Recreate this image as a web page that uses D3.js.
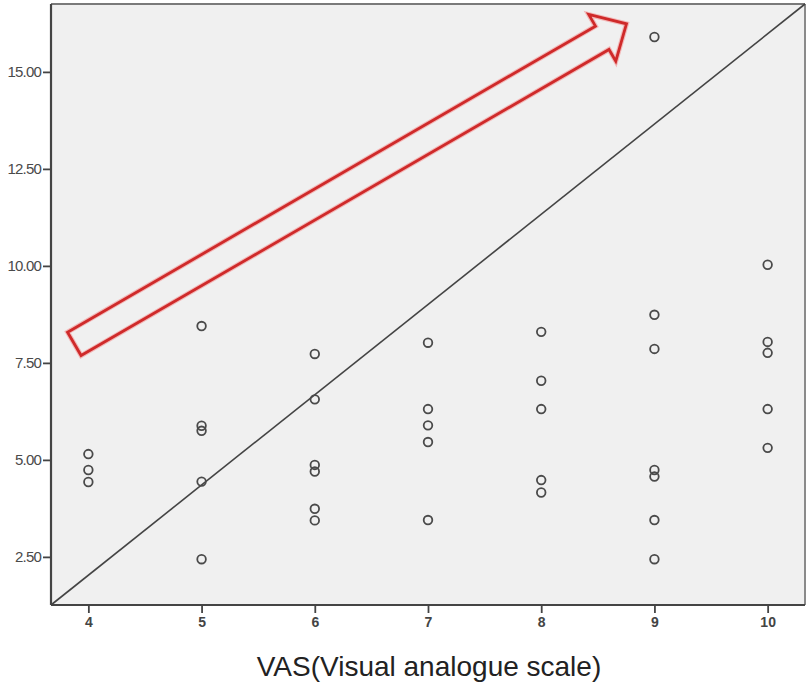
<!DOCTYPE html>
<html>
<head>
<meta charset="utf-8">
<script src="https://cdn.jsdelivr.net/npm/d3@7"></script>
<style>
  html, body { margin: 0; padding: 0; background: #fff; }
  svg { display: block; }
</style>
</head>
<body>
<svg id="chart" width="807" height="683"></svg>
<script>
// ---- data ----
const vasCategories = [4, 5, 6, 7, 8, 9, 10];
const pointsX = [
  4, 4, 4,
  5, 5, 5, 5, 5,
  6, 6, 6, 6, 6, 6,
  7, 7, 7, 7, 7,
  8, 8, 8, 8, 8,
  9, 9, 9, 9, 9, 9, 9,
  10, 10, 10, 10, 10
];
const pointsY = [
  5.15, 4.74, 4.43,
  8.45, 5.88, 5.75, 4.44, 2.44,
  7.73, 6.56, 4.87, 4.70, 3.74, 3.44,
  8.02, 6.31, 5.89, 5.46, 3.45,
  8.30, 7.04, 6.31, 4.48, 4.16,
  15.90, 8.74, 7.86, 4.74, 4.57, 3.45, 2.44,
  10.03, 8.04, 7.76, 6.31, 5.31
];
const yTickValues = [2.5, 5, 7.5, 10, 12.5, 15];
const xDomain = [3.67, 10.33];
const yDomain = [1.26, 16.75];
// annotation arrow (data units): tail centre and tip
const arrowTail = [3.876, 7.99];
const arrowTip = [8.753, 16.24];
const xLabel = "VAS(Visual analogue scale)";

// ---- layout ----
const svg = d3.select("#chart");
const mLeft = 51, mRight = 805, mTop = 4, mBottom = 605;

const x = d3.scaleLinear().domain(xDomain).range([mLeft, mRight]);
const y = d3.scaleLinear().domain(yDomain).range([mBottom, mTop]);

// plot background
svg.append("rect")
  .attr("x", mLeft).attr("y", mTop)
  .attr("width", mRight - mLeft).attr("height", mBottom - mTop)
  .attr("fill", "#f0f0f0");

// top & right frame lines (lighter)
svg.append("line").attr("x1", mLeft).attr("x2", mRight).attr("y1", mTop).attr("y2", mTop)
  .attr("stroke", "#7a7a7a").attr("stroke-width", 2);
svg.append("line").attr("x1", mRight).attr("x2", mRight).attr("y1", mTop).attr("y2", mBottom)
  .attr("stroke", "#8a8a8a").attr("stroke-width", 2);

// diagonal reference line
svg.append("line")
  .attr("x1", x(xDomain[0])).attr("y1", y(yDomain[0]))
  .attr("x2", x(xDomain[1])).attr("y2", y(yDomain[1]))
  .attr("stroke", "#444").attr("stroke-width", 1.6);

// arrow annotation
(function () {
  const tx = x(arrowTail[0]), ty = y(arrowTail[1]);
  const hx = x(arrowTip[0]), hy = y(arrowTip[1]);
  const dx = hx - tx, dy = hy - ty;
  const len = Math.hypot(dx, dy);
  const ux = dx / len, uy = dy / len;
  const px = -uy, py = ux;
  const shaftHalf = 13.5, headHalf = 27, headLen = 28;
  const bx = hx - ux * headLen, by = hy - uy * headLen;
  const pts = [
    [tx + px * shaftHalf, ty + py * shaftHalf],
    [bx + px * shaftHalf, by + py * shaftHalf],
    [bx + px * headHalf, by + py * headHalf],
    [hx, hy],
    [bx - px * headHalf, by - py * headHalf],
    [bx - px * shaftHalf, by - py * shaftHalf],
    [tx - px * shaftHalf, ty - py * shaftHalf]
  ];
  svg.append("path")
    .attr("d", d3.line()(pts) + "Z")
    .attr("fill", "none")
    .attr("stroke", "#f2b8b8")
    .attr("stroke-width", 5)
    .attr("stroke-linejoin", "miter");
  svg.append("path")
    .attr("d", d3.line()(pts) + "Z")
    .attr("fill", "none")
    .attr("stroke", "#cf2a2a")
    .attr("stroke-width", 2.8)
    .attr("stroke-linejoin", "miter");
})();

// points
svg.append("g").selectAll("circle")
  .data(pointsX.map((v, i) => [v, pointsY[i]]))
  .join("circle")
  .attr("cx", d => x(d[0]))
  .attr("cy", d => y(d[1]))
  .attr("r", 4.3)
  .attr("fill", "none")
  .attr("stroke", "#4a4a4a")
  .attr("stroke-width", 1.8);

// axes
const yAxis = d3.axisLeft(y).tickValues(yTickValues).tickFormat(d3.format(".2f"))
  .tickSize(8).tickPadding(2);
const gy = svg.append("g").attr("transform", `translate(${mLeft},0)`).call(yAxis);
gy.select(".domain").attr("stroke", "#444").attr("stroke-width", 2.2).attr("d", `M0,${mTop}V${mBottom}`);
gy.selectAll(".tick line").attr("stroke", "#444").attr("stroke-width", 1.8);
gy.selectAll(".tick text").attr("fill", "#4a4a4a")
  .style("font-family", "'Liberation Sans', Arial, sans-serif").style("font-size", "15px")
  .style("letter-spacing", "-0.8px");

const xAxis = d3.axisBottom(x).tickValues(vasCategories).tickFormat(d3.format("d"))
  .tickSize(8).tickPadding(4);
const gx = svg.append("g").attr("transform", `translate(0,${mBottom})`).call(xAxis);
gx.select(".domain").attr("stroke", "#444").attr("stroke-width", 2.2).attr("d", `M${mLeft},0H${mRight}`);
gx.selectAll(".tick line").attr("stroke", "#444").attr("stroke-width", 1.8);
gx.selectAll(".tick text").attr("fill", "#444")
  .style("font-family", "'Liberation Sans', Arial, sans-serif").style("font-size", "14px")
  .style("font-weight", "bold");

// x axis title
svg.append("text")
  .attr("x", (mLeft + mRight) / 2 + 1)
  .attr("y", 676)
  .attr("text-anchor", "middle")
  .attr("fill", "#222")
  .style("font-family", "'Liberation Sans', Arial, sans-serif")
  .style("font-size", "28px")
  .text(xLabel);
</script>
</body>
</html>
